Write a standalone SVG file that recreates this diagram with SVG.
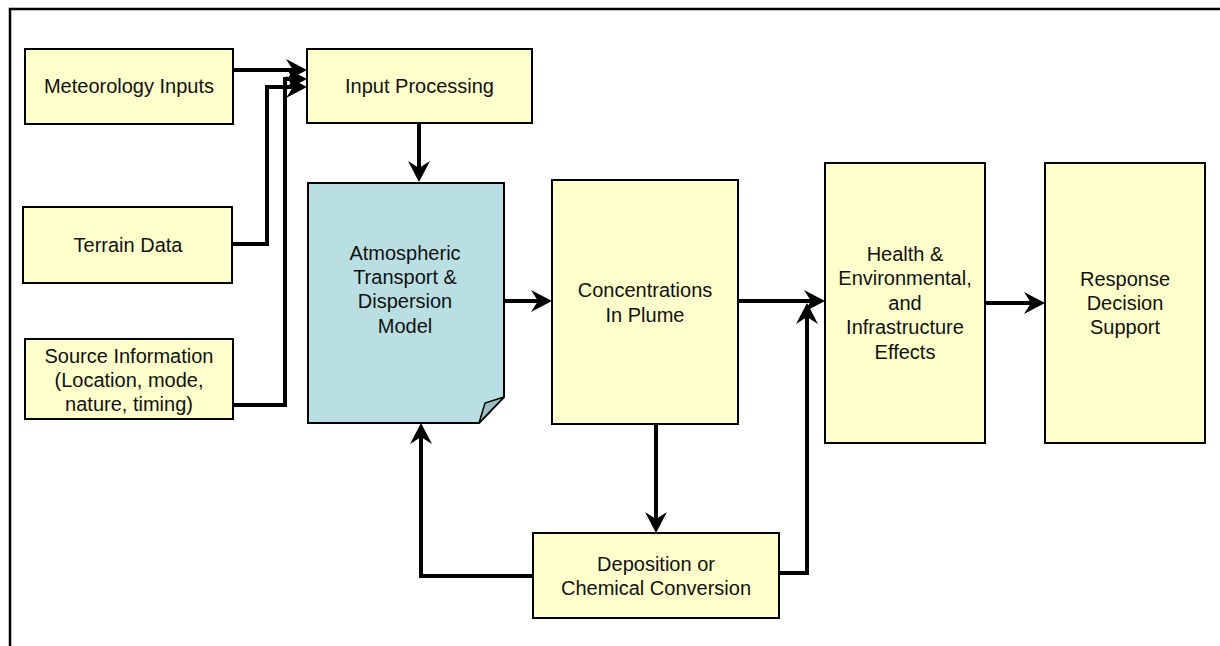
<svg xmlns="http://www.w3.org/2000/svg" width="1220" height="646" viewBox="0 0 1220 646">
<style>
.box{fill:#FFFFCC;stroke:#000;stroke-width:2}
.atd{fill:#B9DFE3;stroke:#000;stroke-width:2}
.fold{fill:#9DBDC1;stroke:#000;stroke-width:1.5}
.t{font-family:"Liberation Sans",Arial,sans-serif;font-size:20px;fill:#111;text-anchor:middle}
.c{fill:none;stroke:#000;stroke-width:4;stroke-linejoin:miter}
</style>
<defs>
<marker id="ah" markerUnits="userSpaceOnUse" viewBox="-23 -12 25 24" markerWidth="25" markerHeight="24" refX="-12" refY="0" orient="auto">
<path d="M0,0 L-21,-11 L-14,0 L-21,11 Z" fill="#000"/>
</marker>
</defs>
<rect x="10" y="9" width="1240" height="700" fill="none" stroke="#000" stroke-width="2.5"/>
<g id="connectors">
<path class="c" d="M233,70 H295" marker-end="url(#ah)"/>
<path class="c" d="M232,244 H267 V87 H295" marker-end="url(#ah)"/>
<path class="c" d="M233,405 H285 V79 H295" marker-end="url(#ah)"/>
<path class="c" d="M419,123 V170" marker-end="url(#ah)"/>
<path class="c" d="M504,301 H540" marker-end="url(#ah)"/>
<path class="c" d="M738,301 H813" marker-end="url(#ah)"/>
<path class="c" d="M656,424 V521" marker-end="url(#ah)"/>
<path class="c" d="M533,576 H421 V435" marker-end="url(#ah)"/>
<path class="c" d="M779,573 H807 V315" marker-end="url(#ah)"/>
<path class="c" d="M985,303 H1033" marker-end="url(#ah)"/>
</g>
<g id="meteo">
<rect class="box" x="25" y="49" width="208" height="75"/>
<text class="t" x="129" y="93">Meteorology Inputs</text>
</g>
<g id="input">
<rect class="box" x="307" y="49" width="225" height="74"/>
<text class="t" x="419.5" y="93">Input Processing</text>
</g>
<g id="terrain">
<rect class="box" x="23" y="207" width="209" height="76"/>
<text class="t" x="128" y="252">Terrain Data</text>
</g>
<g id="source">
<rect class="box" x="25" y="339" width="208" height="80"/>
<text class="t" x="129" y="363">Source Information</text>
<text class="t" x="129" y="387">(Location, mode,</text>
<text class="t" x="129" y="411">nature, timing)</text>
</g>
<g id="atd">
<path class="atd" d="M308,183 H504 V397 L479,423 H308 Z"/>
<path class="fold" d="M504,397 L485,403 L479,423 Z"/>
<text class="t" x="405" y="260">Atmospheric</text>
<text class="t" x="405" y="284">Transport &amp;</text>
<text class="t" x="405" y="308">Dispersion</text>
<text class="t" x="405" y="333">Model</text>
</g>
<g id="conc">
<rect class="box" x="552" y="180" width="186" height="244"/>
<text class="t" x="645" y="297">Concentrations</text>
<text class="t" x="645" y="322">In Plume</text>
</g>
<g id="health">
<rect class="box" x="825" y="163" width="160" height="280"/>
<text class="t" x="905" y="261">Health &amp;</text>
<text class="t" x="905" y="285">Environmental,</text>
<text class="t" x="905" y="310">and</text>
<text class="t" x="905" y="334">Infrastructure</text>
<text class="t" x="905" y="359">Effects</text>
</g>
<g id="response">
<rect class="box" x="1045" y="163" width="160" height="280"/>
<text class="t" x="1125" y="286">Response</text>
<text class="t" x="1125" y="310">Decision</text>
<text class="t" x="1125" y="334">Support</text>
</g>
<g id="deposition">
<rect class="box" x="533" y="533" width="246" height="85"/>
<text class="t" x="656" y="571">Deposition or</text>
<text class="t" x="656" y="595">Chemical Conversion</text>
</g>
</svg>
